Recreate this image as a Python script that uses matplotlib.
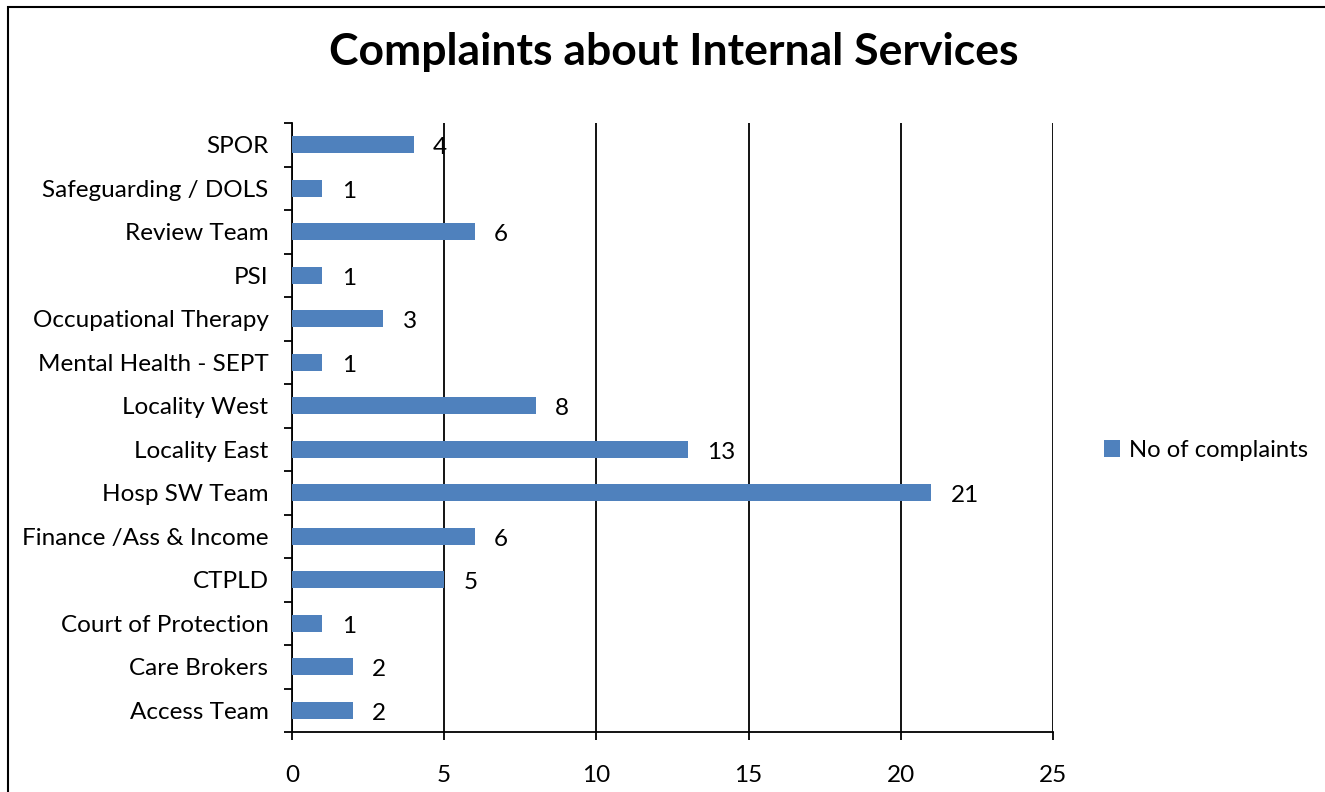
import matplotlib
matplotlib.use('Agg')
from matplotlib import pyplot as plt
from matplotlib.patches import Rectangle
from matplotlib.transforms import ScaledTranslation

services = ['Access Team', 'Care Brokers', 'Court of Protection', 'CTPLD',
            'Finance /Ass & Income', 'Hosp SW Team', 'Locality East',
            'Locality West', 'Mental Health - SEPT', 'Occupational Therapy',
            'PSI', 'Review Team', 'Safeguarding / DOLS', 'SPOR']
complaints = [2, 2, 1, 5, 6, 21, 13, 8, 1, 3, 1, 6, 1, 4]
xticks = [0, 5, 10, 15, 20, 25]

plt.rcParams['font.family'] = ['Lato', 'DejaVu Sans']
W, H = 1325, 792
fs = 17.5
fig = plt.figure(figsize=(W / 100, H / 100), dpi=100)
ax = fig.add_axes([292 / W, 1 - 732 / H, (1053 - 292) / W, (732 - 123) / H])

pos = list(range(len(services)))
ax.barh(pos, complaints, height=0.4, color='#4F81BD', label='No of complaints', zorder=3)
for p, v in zip(pos, complaints):
    ax.annotate(str(v), xy=(v, p), xytext=(14, -2), textcoords='offset points',
                ha='left', va='center', fontsize=fs)

ax.set_xlim(0, 25)
ax.set_ylim(-0.5, len(services) - 0.5)
ax.set_xticks(xticks)
ax.set_xticklabels([str(t) for t in xticks], fontsize=fs)
ax.set_yticks(pos)
ax.set_yticklabels(services, fontsize=fs)
shift = ScaledTranslation(0, -2.5 / 100, fig.dpi_scale_trans)
for lbl in ax.get_yticklabels():
    lbl.set_va('center_baseline')
    lbl.set_transform(lbl.get_transform() + shift)
ax.set_yticks([p - 0.5 for p in pos] + [len(services) - 0.5], minor=True)
ax.tick_params(axis='y', which='major', length=0, pad=17)
ax.tick_params(axis='y', which='minor', length=6, width=1.3, direction='out')
ax.tick_params(axis='x', length=6, width=1.3, direction='out', pad=18)
ax.xaxis.grid(True, color='black', linewidth=1.3, zorder=0)
for s in ['top', 'right']:
    ax.spines[s].set_visible(False)
for s in ['left', 'bottom']:
    ax.spines[s].set_linewidth(1.3)

fig.text(674 / W, 1 - 52 / H, 'Complaints about Internal Services',
         ha='center', va='center', fontsize=32, fontweight='bold')

ax.legend(loc='center left', bbox_to_anchor=(1082 / W, 1 - 450 / H),
          bbox_transform=fig.transFigure, frameon=False, fontsize=17.2,
          handlelength=0.7, handleheight=0.7, handletextpad=0.35)

fig.patches.append(Rectangle((8 / W, -0.1), 1.2, 1.1 - 7 / H, transform=fig.transFigure,
                             fill=False, edgecolor='black', linewidth=1.5))

fig.savefig('out.png', dpi=100)
